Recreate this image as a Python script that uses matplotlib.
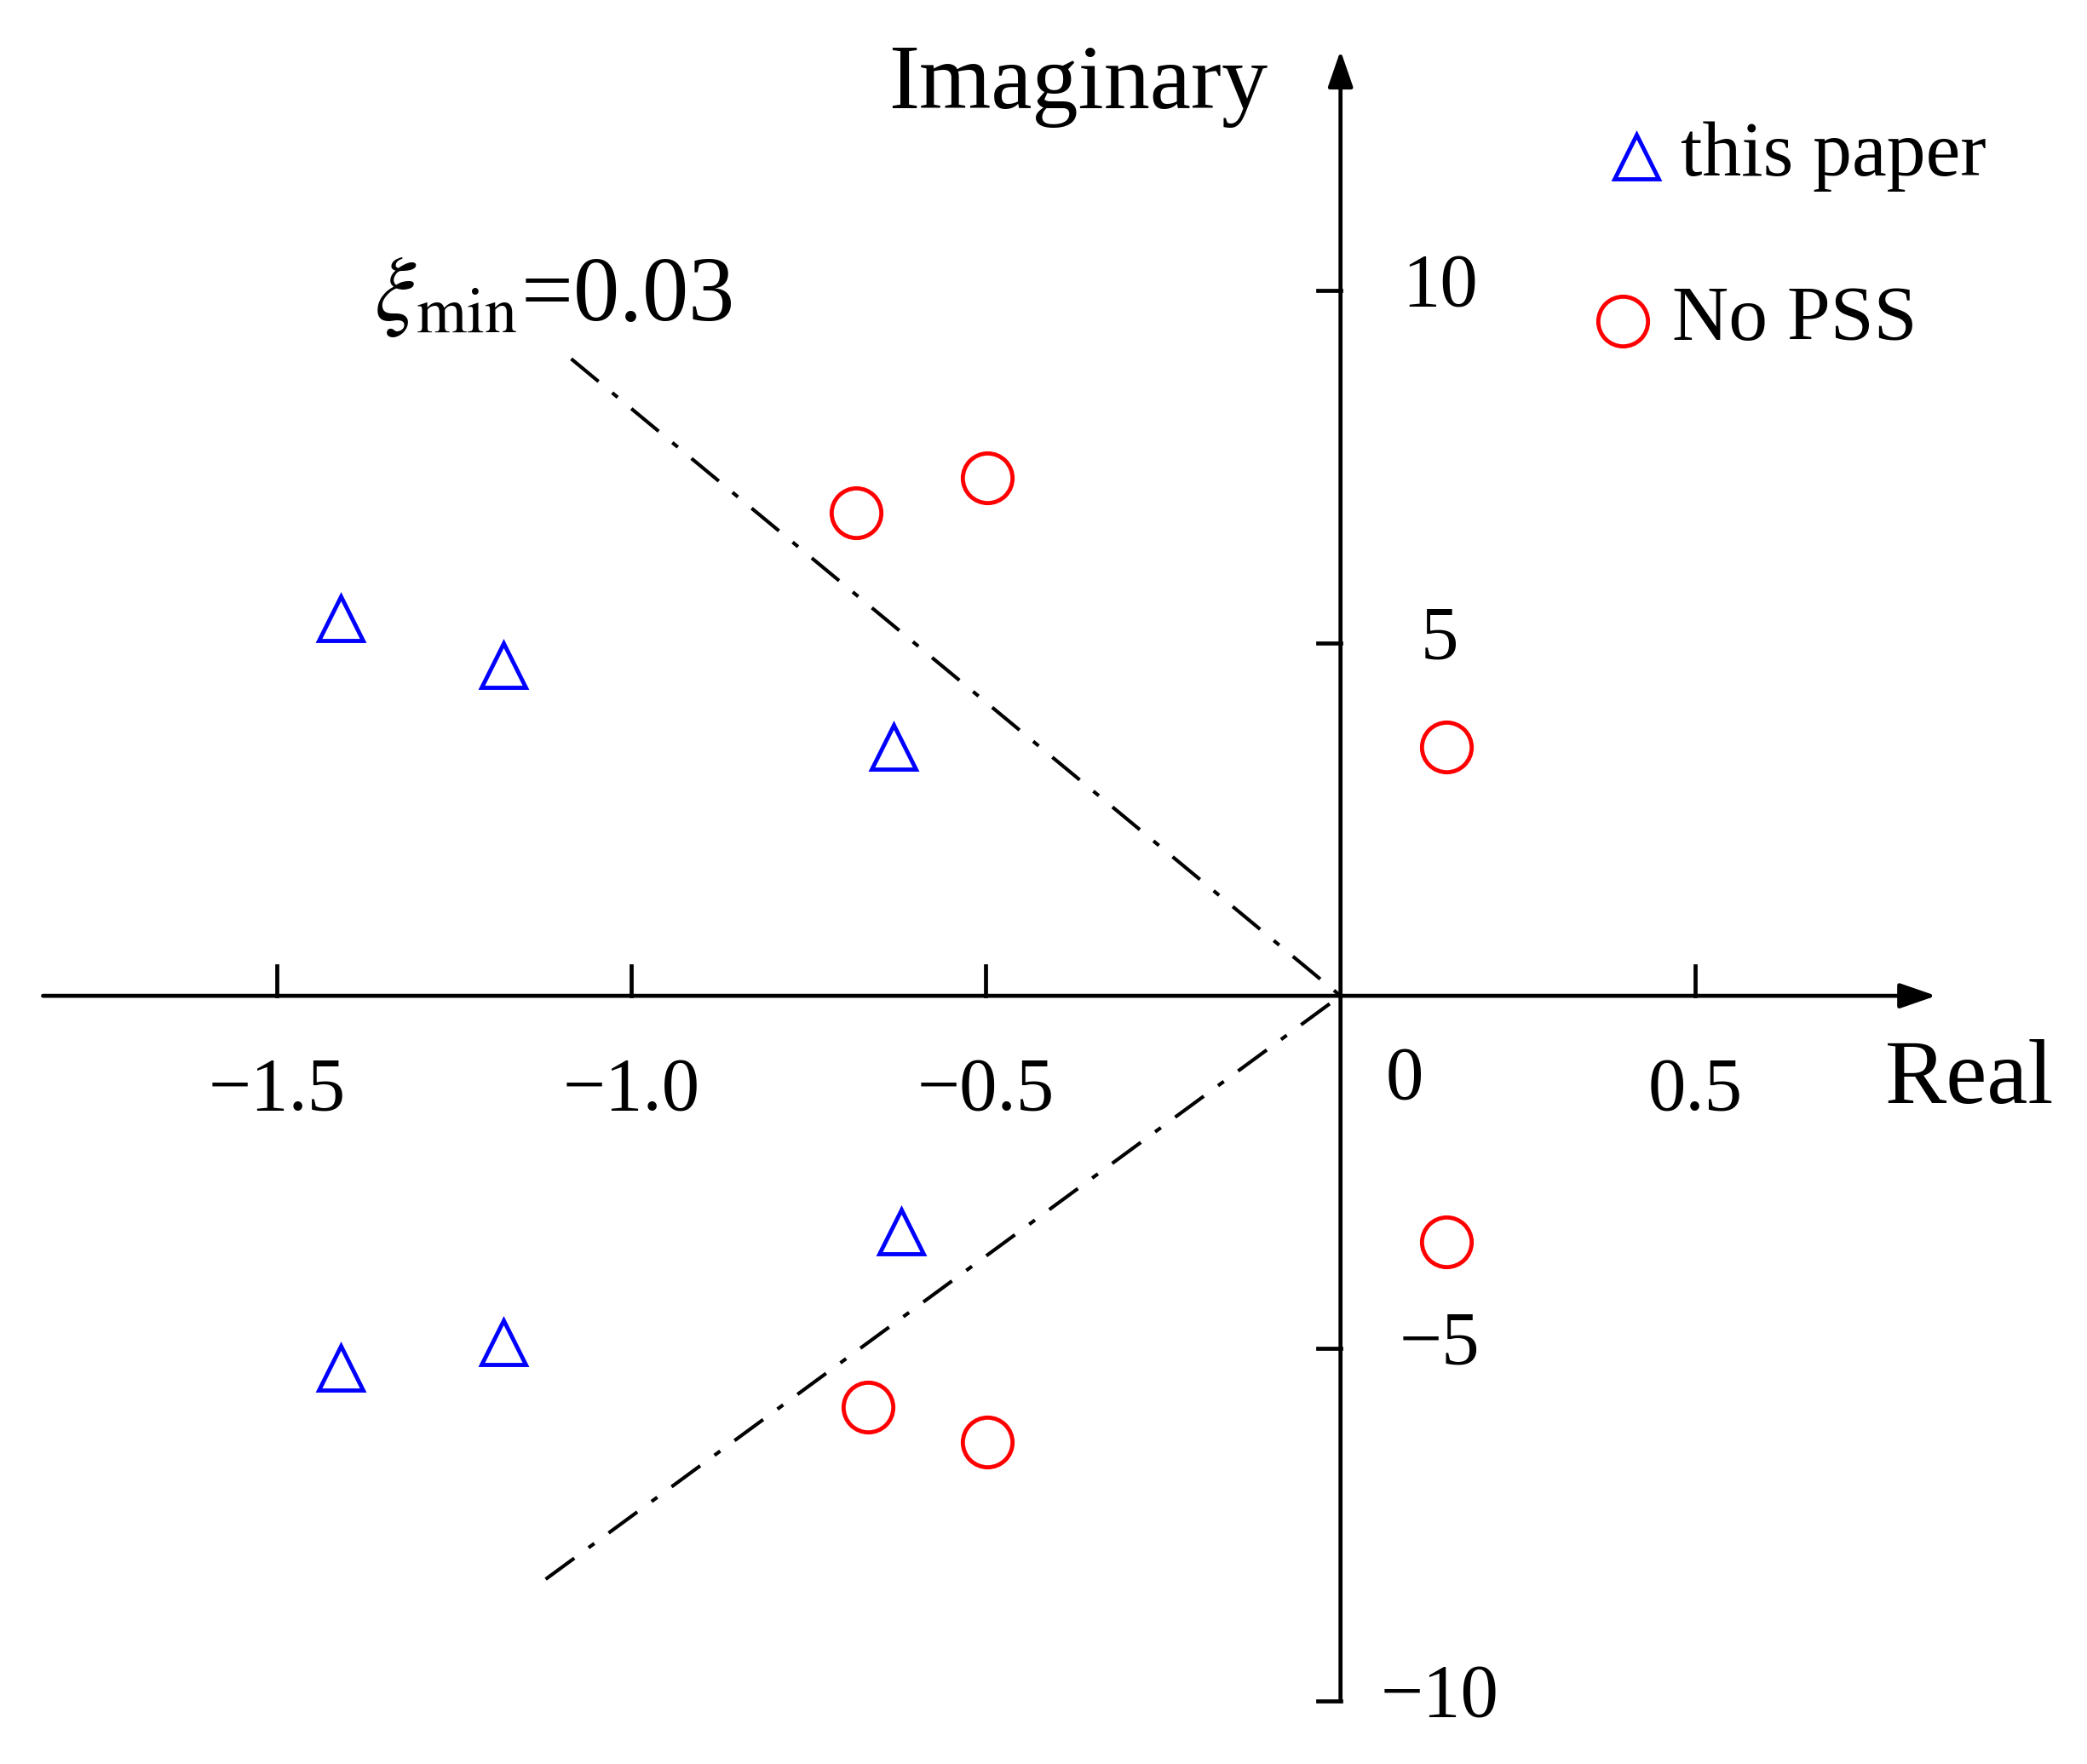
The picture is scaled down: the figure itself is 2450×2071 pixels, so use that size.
import matplotlib
matplotlib.use("Agg")
import matplotlib.pyplot as plt

plt.rcParams['font.family'] = ['Liberation Serif', 'DejaVu Serif']
plt.rcParams['mathtext.fontset'] = 'stix'

tri_x = [-1.41, -1.18, -0.63, -0.62, -1.18, -1.41]
tri_y = [5.35, 4.69, 3.53, -3.34, -4.91, -5.27]
circ_x = [-0.683, -0.498, 0.149, 0.149, -0.666, -0.498]
circ_y = [6.85, 7.34, 3.53, -3.49, -5.83, -6.32]
line_up = ([-1.085, 0.0], [9.03, 0.0])
line_dn = ([-1.121, 0.0], [-8.27, 0.0])
xticks = [-1.5, -1.0, -0.5, 0.5]
xtick_labels = ['\u22121.5', '\u22121.0', '\u22120.5', '0.5']
yticks = [10, 5, -5, -10]
ytick_labels = ['10', '5', '\u22125', '\u221210']

fig = plt.figure(figsize=(24.5, 20.71), dpi=100)
ax = fig.add_axes([0, 0, 1, 1])
ax.set_xlim(-1.8906, 1.0528)
ax.set_ylim(-10.89, 14.117)
ax.axis('off')

lw = 3.4
arrow = dict(arrowstyle='-|>,head_length=2.6,head_width=0.9', lw=lw, color='black', shrinkA=0, shrinkB=0)
ax.annotate('', xy=(0.84, 0), xytext=(-1.83, 0), arrowprops=arrow)
ax.annotate('', xy=(0, 13.4), xytext=(0, -10), arrowprops=arrow)

for xt, lab in zip(xticks, xtick_labels):
    ax.plot([xt, xt], [0, 0.42], color='black', lw=lw)
    ax.text(xt, -1.35, lab, ha='center', va='center', fontsize=64)
ax.text(0.09, -1.2, '0', ha='center', va='center', fontsize=64)
for yt, lab in zip(yticks, ytick_labels):
    ax.plot([-0.032, 0], [yt, yt], color='black', lw=lw)
    ax.text(0.14, yt + 0.05, lab, ha='center', va='center', fontsize=64)

ax.text(-0.37, 12.9, 'Imaginary', ha='center', va='center', fontsize=78)
ax.text(0.887, -1.2, 'Real', ha='center', va='center', fontsize=78)
ax.text(-1.11, 9.9, r'$\xi_{\mathrm{min}}$=0.03', ha='center', va='center', fontsize=78)

ax.plot(*line_up, color='black', lw=3, dashes=[10, 5, 2, 5])
ax.plot(*line_dn, color='black', lw=3, dashes=[10, 5, 2, 5])

ax.plot(tri_x, tri_y, linestyle='none', marker='^', markersize=38, fillstyle='none',
        markeredgewidth=3.5, color='blue')
ax.plot(circ_x, circ_y, linestyle='none', marker='o', markersize=42, fillstyle='none',
        markeredgewidth=3.5, color='red')

# legend
ax.plot([0.417], [11.9], linestyle='none', marker='^', markersize=38, fillstyle='none',
        markeredgewidth=3.5, color='blue')
ax.text(0.48, 11.9, 'this paper', ha='left', va='center', fontsize=66)
ax.plot([0.398], [9.57], linestyle='none', marker='o', markersize=42, fillstyle='none',
        markeredgewidth=3.5, color='red')
ax.text(0.468, 9.57, 'No PSS', ha='left', va='center', fontsize=66)

fig.savefig('out.png', dpi=100)
